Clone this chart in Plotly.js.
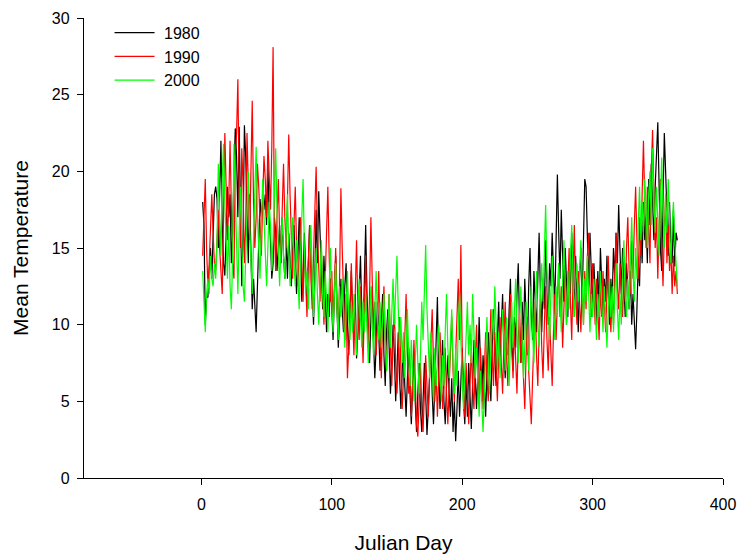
<!DOCTYPE html>
<html>
<head>
<meta charset="utf-8">
<script src="https://cdn.plot.ly/plotly-3.0.1.min.js"></script>
<style>html,body{margin:0;padding:0;background:#fff;}#chart{width:738px;height:558px;}</style>
</head>
<body>
<div id="chart"></div>
<script>
const seriesNames = ["1980", "1990", "2000"];
const seriesColors = ["#000000", "#ff0000", "#00ff00"];

const temp1980 = [
18.0,16.5,10.0,11.8,11.8,13.5,15.0,13.0,16.0,18.5,
19.0,18.2,15.0,17.8,22.0,16.5,14.0,13.2,16.0,19.0,
17.0,18.5,14.0,16.0,20.0,22.8,21.0,17.0,22.9,18.0,
12.5,16.0,23.0,21.0,17.5,14.0,18.5,14.5,11.0,13.0,
10.8,9.5,12.5,16.0,18.2,17.0,18.0,17.5,18.5,16.5,
20.5,17.0,15.5,13.0,14.0,17.0,16.0,13.5,15.0,16.5,
14.0,17.0,14.5,13.0,15.5,13.0,16.0,14.5,12.5,15.0,
16.5,14.0,12.0,14.5,17.0,15.0,11.5,13.0,16.0,13.5,
11.5,14.0,16.5,15.0,12.0,10.0,13.0,17.5,14.0,18.7,
16.0,13.0,11.0,14.5,12.0,9.5,12.0,10.5,13.0,11.0,
9.0,12.0,14.5,11.0,8.5,10.5,13.0,11.0,9.5,12.5,
14.0,10.0,8.0,11.0,13.5,10.5,9.0,12.0,7.8,9.5,
12.0,14.5,11.0,9.0,13.0,16.5,12.0,9.0,7.5,10.5,
12.5,9.0,6.5,8.5,11.5,9.5,7.0,10.0,12.0,8.0,
6.0,9.5,11.0,8.5,5.5,7.5,10.0,8.0,5.0,7.0,
9.5,6.5,4.5,7.0,9.0,6.0,4.0,6.5,8.5,5.5,
3.5,6.0,8.0,5.0,3.0,5.5,7.5,4.5,3.0,5.0,
7.5,5.5,2.8,4.5,7.0,9.0,5.5,3.5,6.0,8.5,
11.8,7.0,4.5,6.5,9.0,5.0,3.5,6.0,8.0,5.5,
4.0,6.5,3.0,5.0,2.4,4.5,7.0,4.0,6.0,8.5,
5.0,3.5,6.5,4.0,7.5,5.5,3.2,6.0,9.0,6.5,
4.5,7.0,10.5,7.5,5.0,8.0,6.0,4.0,7.0,9.5,
6.5,5.0,8.5,11.0,8.0,6.0,9.0,11.5,7.5,9.5,
12.0,8.5,6.5,10.0,8.0,11.0,13.0,9.0,7.0,10.5,
8.5,12.0,14.0,10.0,7.5,11.5,9.0,13.0,10.5,8.0,
12.5,15.0,11.0,9.0,13.5,11.5,9.5,13.0,16.0,12.0,
9.5,13.0,11.0,15.5,12.0,10.0,14.0,12.5,16.0,13.0,
11.0,15.5,19.8,16.0,13.0,17.5,14.0,11.5,15.0,12.0,
10.5,14.0,12.0,16.0,13.5,10.5,14.5,12.0,9.5,13.0,
15.0,11.5,17.0,19.5,19.0,15.0,12.5,16.0,13.0,11.0,
14.0,12.0,10.0,13.5,11.0,15.0,12.5,10.5,13.0,11.5,
14.5,12.0,10.0,13.0,11.5,15.0,13.0,16.0,14.0,17.8,
14.5,12.0,15.0,13.0,10.5,14.0,12.0,11.0,13.5,10.0,
12.0,9.5,8.4,11.0,14.0,12.5,16.5,14.0,18.0,15.5,
17.0,14.0,19.5,16.5,20.5,18.0,15.5,19.0,21.5,23.2,
19.0,15.0,13.5,17.0,22.5,20.0,17.0,14.5,18.0,15.0,
14.0,17.5,13.8,16.0,15.5
];

const temp1990 = [
14.5,17.5,19.5,15.0,12.5,14.0,16.5,18.5,16.0,14.0,
13.5,16.0,17.5,15.0,13.0,12.0,17.0,22.5,19.0,15.5,
18.0,22.0,17.5,14.0,13.0,21.0,22.5,26.0,18.5,15.0,
21.5,19.0,14.0,16.5,22.5,18.0,15.5,20.0,24.6,18.0,
15.0,17.0,20.5,19.0,16.0,14.5,18.0,21.0,19.5,17.0,
22.0,20.0,17.5,21.5,28.1,16.5,13.5,17.0,19.5,16.0,
14.0,17.5,20.5,17.0,15.0,18.0,22.4,18.5,15.5,13.0,
16.5,19.0,15.0,12.5,14.5,17.0,14.0,11.5,15.0,13.0,
10.5,14.0,16.5,13.0,11.0,14.5,17.5,20.3,16.0,13.0,
11.5,15.0,12.5,10.0,13.0,16.0,19.0,14.5,11.5,13.5,
10.0,12.5,15.0,11.5,9.5,13.0,18.9,15.0,11.0,9.0,
12.0,6.5,8.5,11.5,14.0,10.5,8.0,12.0,15.5,11.0,
9.0,12.5,10.0,7.5,11.0,14.5,10.5,8.5,12.0,17.0,
13.0,9.5,11.5,8.0,10.0,13.5,9.5,6.5,10.5,12.5,
9.0,7.0,10.0,12.0,8.5,6.0,9.0,11.0,7.5,5.5,
8.0,10.5,7.0,4.5,6.5,9.5,12.0,8.0,5.5,7.5,
4.0,6.0,9.0,6.5,3.5,2.7,5.0,7.5,4.5,3.0,
5.5,8.0,6.0,4.0,6.5,9.0,11.0,7.5,5.0,7.0,
4.0,6.5,9.5,7.0,4.5,6.0,8.5,5.5,3.5,6.0,
8.0,10.5,7.0,5.0,8.0,11.0,13.0,9.0,15.2,8.5,
6.0,4.0,7.5,5.0,3.5,6.0,8.5,6.0,4.5,7.5,
10.0,7.0,5.0,8.5,6.0,4.5,7.0,9.5,6.5,5.0,
8.0,11.0,8.0,6.0,9.5,7.5,5.0,8.0,10.5,7.5,
5.5,9.0,11.5,8.0,6.0,9.5,12.0,8.5,6.5,10.0,
8.0,5.5,9.0,11.0,7.5,10.0,6.5,4.5,8.0,10.5,
7.0,5.0,3.5,6.5,9.0,11.5,8.0,6.0,9.5,12.0,
8.5,6.5,10.0,12.5,9.0,7.0,10.5,8.5,6.0,9.5,
12.0,9.0,11.5,14.0,10.5,12.5,8.5,11.0,13.5,10.0,
12.5,15.0,11.5,9.0,13.0,16.5,12.0,10.0,13.5,11.5,
9.5,12.5,10.0,13.5,11.0,14.5,16.0,12.5,10.5,14.0,
12.0,10.0,13.0,11.0,9.0,12.5,10.5,13.5,11.0,9.5,
12.0,14.5,11.5,9.5,12.0,10.0,13.5,16.0,12.5,11.0,
14.0,12.0,10.5,13.0,11.5,15.0,17.0,13.5,12.0,15.5,
13.0,16.5,19.0,15.5,13.0,17.0,14.5,18.5,22.0,18.0,
15.0,19.0,16.5,14.0,20.0,22.7,18.5,15.0,17.0,13.0,
16.5,19.5,15.0,12.5,16.0,18.5,14.0,16.5,13.5,15.0,
12.0,14.5,12.5,13.5,12.0
];

const temp2000 = [
13.5,11.0,9.5,12.0,13.0,12.0,14.5,13.0,12.5,14.0,
13.0,15.5,20.5,17.0,14.5,19.5,21.8,18.0,15.0,13.0,
16.5,12.5,11.0,14.5,21.8,19.0,15.0,12.0,16.0,19.0,
15.5,12.5,11.5,14.0,17.5,20.0,16.5,13.5,12.0,15.5,
18.5,21.6,17.0,14.5,13.0,16.5,19.5,17.0,14.0,12.5,
15.0,18.0,16.5,13.5,15.5,19.0,21.5,17.5,14.0,12.5,
15.0,17.0,14.5,13.0,16.0,18.5,15.0,12.5,14.5,17.0,
14.0,12.5,15.5,13.0,11.0,14.5,17.0,19.5,15.0,12.0,
13.5,11.0,14.0,16.5,13.0,10.5,12.5,15.0,12.0,10.0,
13.0,15.5,12.0,10.5,13.5,11.0,9.5,12.5,15.0,11.5,
9.5,12.0,14.0,11.0,9.0,12.5,10.5,13.0,10.0,8.5,
11.0,13.5,10.5,9.0,11.5,9.5,12.0,10.0,8.0,11.0,
13.0,10.5,8.5,11.5,9.5,12.0,10.0,7.5,10.0,12.5,
10.0,8.0,11.0,13.5,10.5,9.0,11.5,8.5,10.5,12.0,
9.0,7.0,9.5,12.0,8.5,11.0,13.0,10.0,12.5,14.5,
11.0,8.5,10.5,7.5,9.5,6.5,8.5,11.0,8.0,6.0,
9.0,7.0,5.0,7.5,10.0,7.5,5.5,8.0,11.5,9.0,
12.0,15.2,11.0,8.0,6.5,9.5,7.0,5.0,8.5,6.0,
7.5,10.0,7.0,5.0,8.0,6.0,9.5,12.0,8.5,6.5,
9.0,11.0,7.5,5.5,8.5,6.0,10.0,12.0,9.0,6.5,
4.5,7.0,9.5,11.5,8.0,10.0,7.5,12.0,9.5,6.5,
8.5,6.0,4.0,7.0,5.0,3.0,5.5,8.0,10.5,7.5,
5.5,8.5,11.0,9.0,12.5,10.0,7.0,9.5,6.5,8.5,
11.0,9.0,7.0,10.5,8.0,6.0,9.0,11.5,8.5,10.5,
13.0,9.5,7.5,10.5,12.5,9.0,6.5,8.5,11.5,9.0,
7.0,10.0,12.5,9.5,7.5,11.0,13.5,10.0,8.5,12.0,
14.0,11.5,15.5,17.8,13.5,11.0,9.0,12.0,14.5,11.0,
9.0,12.5,10.5,14.0,12.0,9.5,13.0,15.5,12.5,10.0,
13.5,11.0,14.5,16.5,13.0,10.5,12.5,14.0,11.5,13.0,
15.5,12.5,10.0,13.0,11.5,14.5,12.0,9.5,12.0,10.5,
13.0,11.0,9.0,12.0,10.5,13.5,11.0,9.5,12.5,10.0,
8.5,11.0,13.0,10.5,12.5,9.5,11.5,14.0,11.0,9.0,
12.0,10.0,13.5,15.5,12.0,10.5,13.0,11.0,14.5,17.0,
13.5,11.5,15.0,13.0,16.5,19.0,15.5,18.0,16.0,19.5,
17.7,15.0,18.5,20.0,16.5,21.5,18.0,16.0,19.0,17.0,
14.5,18.0,20.9,17.5,15.0,18.5,16.0,19.5,17.0,14.0,
16.5,18.0,15.5,13.5,12.5
];

const allSeries = [temp1980, temp1990, temp2000];
const xTicks = [0, 100, 200, 300, 400];
const yTicks = [0, 5, 10, 15, 20, 25, 30];

const FONT = 'Liberation Sans, Arial, sans-serif';

const traces = allSeries.map(function (vals, i) {
  return {
    x: vals.map(function (_, k) { return k + 1; }),
    y: vals,
    type: 'scatter',
    mode: 'lines',
    name: '\u00a0' + seriesNames[i],
    line: { color: seriesColors[i], width: 1.2 }
  };
});

const axisCommon = {
  showgrid: false,
  zeroline: false,
  showline: true,
  linecolor: '#000',
  linewidth: 1.2,
  ticks: 'outside',
  ticklen: 6,
  tickwidth: 1,
  tickcolor: '#000',
  tickfont: { family: FONT, size: 16, color: '#000' },
  tickmode: 'array'
};

const layout = {
  width: 738,
  height: 558,
  margin: { l: 84, r: 15, t: 18, b: 80 },
  paper_bgcolor: '#fff',
  plot_bgcolor: '#fff',
  showlegend: true,
  legend: {
    x: 0.040, y: 1.005, xanchor: 'left', yanchor: 'top',
    bgcolor: 'rgba(0,0,0,0)',
    font: { family: FONT, size: 16, color: '#000' },
    itemwidth: 40,
    tracegroupgap: 0
  },
  xaxis: Object.assign({}, axisCommon, {
    range: [-90, 400],
    tickvals: xTicks,
    ticktext: xTicks.map(String),
    ticklabelstandoff: 6,
    title: { text: 'Julian Day', font: { family: FONT, size: 21, color: '#000' }, standoff: 22 }
  }),
  yaxis: Object.assign({}, axisCommon, {
    range: [0, 30],
    tickvals: yTicks,
    ticktext: yTicks.map(String),
    ticklabelstandoff: 4,
    title: { text: 'Mean Temperature', font: { family: FONT, size: 21, color: '#000' }, standoff: 17 }
  })
};

Plotly.newPlot('chart', traces, layout, { displayModeBar: false, staticPlot: true });
</script>
</body>
</html>
